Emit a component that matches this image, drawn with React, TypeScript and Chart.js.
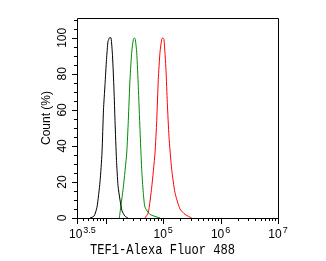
import React, { useEffect, useRef } from "react";
import { Chart, registerables } from "chart.js";

Chart.register(...registerables);

// Fluorescence intensity (x) and count % (y) for each histogram
const blankX = [5321, 6252, 7047, 7953, 8610, 9140, 9720, 10320, 10960, 11650, 12370, 13130, 13940, 14510, 15410, 16370, 17740, 19220, 21680, 24440];
const blankY = [0, 1, 6, 20, 36, 60, 74, 88, 98, 100, 100, 90, 71, 54, 32, 18, 10, 4, 1, 0];

const isotypeX = [17240, 17740, 20240, 23200, 24740, 26480, 28350, 30220, 31460, 32750, 34640, 36940, 39540, 42330, 45120, 48320, 59040, 88160];
const isotypeY = [0, 3, 17, 36, 54, 77, 92, 99, 100, 99, 92, 73, 49, 27, 14, 6, 2, 0];

const targetX = [48320, 55140, 63190, 72170, 77250, 82380, 88160, 94380, 98240, 103500, 112100, 118200, 126500, 140900, 160900, 196600, 240300, 314300];
const targetY = [0, 3, 17, 36, 54, 77, 92, 99, 100, 99, 82, 64, 45, 27, 14, 5, 2, 0];

const seriesColors = ["#000000", "#008a00", "#ff0000"];

const xMinExp = 3.5;
const xMaxExp = 7;
const xLabelExps = ["3.5", "5", "6", "7"];
const xMajorExps = [3.5, 4, 5, 6, 7];
const yMax = 111;
const yLabelTicks = [0, 20, 40, 60, 80, 100];
const yMinorStep = 5;
const yMinorMax = 110;

const xTitle = "TEF1-Alexa Fluor 488";
const yTitle = "Count (%)";

function pts(xs: number[], ys: number[]) {
  return xs.map((x, i) => ({ x, y: ys[i] }));
}

const axesPlugin = {
  id: "customAxes",
  afterDraw(chart: any) {
    const ctx = chart.ctx as CanvasRenderingContext2D;
    const { left, right, top, bottom } = chart.chartArea;
    const xs = chart.scales.x;
    const ys = chart.scales.y;
    ctx.save();
    ctx.strokeStyle = "#000";
    ctx.lineWidth = 1;
    // frame
    ctx.beginPath();
    ctx.rect(Math.round(left) + 0.5, Math.round(top) + 0.5, Math.round(right - left), Math.round(bottom - top));
    ctx.stroke();

    // y ticks
    ctx.beginPath();
    for (let v = 0; v <= yMinorMax; v += yMinorStep) {
      const y = Math.round(ys.getPixelForValue(v)) + 0.5;
      const len = v % 20 === 0 ? 5 : 3;
      ctx.moveTo(left - len, y);
      ctx.lineTo(left, y);
    }
    // x ticks
    const xmin = Math.pow(10, xMinExp);
    const xmax = Math.pow(10, xMaxExp);
    for (let n = 3; n <= 6; n++) {
      for (let k = 1; k <= 9; k++) {
        const v = k * Math.pow(10, n);
        if (v < xmin || v > xmax) continue;
        const x = Math.round(xs.getPixelForValue(v)) + 0.5;
        const len = k === 1 ? 6 : 3;
        ctx.moveTo(x, bottom);
        ctx.lineTo(x, bottom + len);
      }
    }
    xMajorExps.forEach((e) => {
      const x = Math.round(xs.getPixelForValue(Math.pow(10, e))) + 0.5;
      ctx.moveTo(x, bottom);
      ctx.lineTo(x, bottom + 6);
    });
    ctx.stroke();

    ctx.fillStyle = "#000";
    // y labels (rotated)
    ctx.font = "12px 'Liberation Sans', Arial, sans-serif";
    ctx.textAlign = "center";
    ctx.textBaseline = "middle";
    yLabelTicks.forEach((v) => {
      const y = ys.getPixelForValue(v);
      ctx.save();
      ctx.translate(left - 14, y);
      ctx.rotate(-Math.PI / 2);
      ctx.fillText(String(v), 0, 0);
      ctx.restore();
    });
    // y title
    ctx.save();
    ctx.translate(left - 30, (top + bottom) / 2);
    ctx.rotate(-Math.PI / 2);
    ctx.fillText(yTitle, 0, 0);
    ctx.restore();

    // x labels 10^e
    ctx.textAlign = "left";
    ctx.textBaseline = "alphabetic";
    xLabelExps.forEach((e) => {
      const x = xs.getPixelForValue(Math.pow(10, parseFloat(e)));
      ctx.font = "12px 'Liberation Sans', Arial, sans-serif";
      const wBase = ctx.measureText("10").width;
      ctx.font = "9px 'Liberation Sans', Arial, sans-serif";
      const wExp = ctx.measureText(e).width;
      const total = wBase + 1 + wExp;
      let sx = x - total / 2;
      if (sx < left - 8) sx = left - 8;
      ctx.font = "12px 'Liberation Sans', Arial, sans-serif";
      ctx.fillText("10", sx, bottom + 20);
      ctx.font = "9px 'Liberation Sans', Arial, sans-serif";
      ctx.fillText(e, sx + wBase + 1, bottom + 15);
    });

    // x title
    ctx.font = "15px 'Liberation Mono', 'Courier New', monospace";
    const tw = ctx.measureText(xTitle).width;
    const targetW = 145;
    const sc = targetW / tw;
    ctx.save();
    ctx.translate((left + right) / 2 - 15, bottom + 36);
    ctx.scale(sc, 1);
    ctx.textAlign = "center";
    ctx.fillText(xTitle, 0, 0);
    ctx.restore();

    ctx.restore();
  },
};

export default function App() {
  const ref = useRef<HTMLCanvasElement | null>(null);
  useEffect(() => {
    if (!ref.current) return;
    const chart = new Chart(ref.current, {
      type: "line",
      data: {
        datasets: [
          { data: pts(blankX, blankY), borderColor: seriesColors[0] },
          { data: pts(isotypeX, isotypeY), borderColor: seriesColors[1] },
          { data: pts(targetX, targetY), borderColor: seriesColors[2] },
        ].map((d) => ({ ...d, borderWidth: 1, pointRadius: 0, fill: false, tension: 0.2 })),
      },
      options: {
        responsive: false,
        animation: false,
        events: [],
        layout: { padding: { left: 77, top: 18, right: 48, bottom: 43 } },
        plugins: { legend: { display: false }, tooltip: { enabled: false } },
        scales: {
          x: { type: "logarithmic", display: false, min: Math.pow(10, xMinExp), max: Math.pow(10, xMaxExp) },
          y: { type: "linear", display: false, min: 0, max: yMax },
        },
      },
      plugins: [axesPlugin],
    });
    return () => chart.destroy();
  }, []);
  return (
    <div style={{ position: "fixed", left: 0, top: 0, width: 326, height: 261, background: "#fff" }}>
      <canvas ref={ref} width={326} height={261} />
    </div>
  );
}
